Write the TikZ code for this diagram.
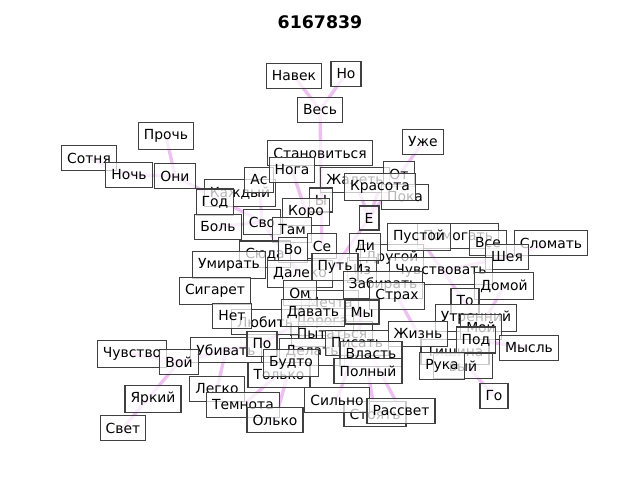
\documentclass[tikz,border=0pt]{standalone}
\usepackage{fontspec}
\setmainfont{DejaVu Sans}
\usepackage{tikz}
\usetikzlibrary{backgrounds}
\tikzset{
  wordnode/.style={draw=black!75, fill=white, fill opacity=0.72, text opacity=1, inner xsep=4pt, inner ysep=5pt, line width=0.8pt, font=\fontsize{10}{12}\selectfont},
  linkedge/.style={draw={rgb,255:red,226;green,150;blue,232}, line width=2.4pt, opacity=0.6},
  titlenode/.style={font=\fontsize{12.5}{15}\selectfont\bfseries}
}
\begin{document}
\begin{tikzpicture}[x=0.72pt, y=-0.72pt]
  \useasboundingbox (0,0) rectangle (640,480);
  \node[titlenode] (title) at (320,22) {6167839};

  % words lying under the others
  \node[wordnode] (kazhd) at (240,193) {Каждый};
  \node[wordnode] (zhal) at (355,180) {Жалеть};
  \node[wordnode] (ot) at (399,174) {От};
  \node[wordnode] (poka) at (405,197) {Пока};
  \node[wordnode] (yy) at (321,200) {Ы};
  \node[wordnode] (pomog) at (458,236) {Помогать};
  \node[wordnode] (drug) at (392,258) {Другой};
  \node[wordnode] (iz) at (362,270) {Из};
  \node[wordnode] (mazha) at (330,303) {Мечта};
  \node[wordnode] (doroga) at (322,322) {Дорога};
  \node[wordnode] (pyt) at (332,334) {Пытаться};
  \node[wordnode] (delat) at (312,352) {Делать};
  \node[wordnode] (tish) at (455,352) {Тишина};
  \node[wordnode] (stoyat) at (375,414) {Стоять};
  \node[wordnode, minimum width=42pt] (vyy) at (463,366) {\hfill вый};

  % top
  \node[wordnode] (navek) at (294,76) {Навек};
  \node[wordnode] (no) at (346,74) {Но};
  \node[wordnode] (ves) at (320,110) {Весь};
  \node[wordnode] (proch) at (166,136) {Прочь};
  \node[wordnode] (uzhe) at (423,142) {Уже};
  \node[wordnode] (sotnya) at (89,158) {Сотня};
  \node[wordnode] (noch) at (129,175) {Ночь};
  \node[wordnode] (oni) at (175,176) {Они};
  \node[wordnode] (stanov) at (320,153) {Становиться};
  \node[wordnode] (as) at (259,180) {Ас};
  \node[wordnode] (noga) at (292,170) {Нога};
  \node[wordnode] (kras) at (380,187) {Красота};
  \node[wordnode] (god) at (215,202) {Год};
  \node[wordnode] (bol) at (218,227) {Боль};
  \node[wordnode] (svo) at (262,222) {Сво};
  \node[wordnode] (koro) at (306,212) {Коро};
  \node[wordnode] (e) at (369,218) {Е};
  \node[wordnode] (tam) at (292,230) {Там};

  % middle
  \node[wordnode] (pust) at (419,237) {Пустой};
  \node[wordnode] (vse) at (488,243) {Все};
  \node[wordnode] (slom) at (551,243) {Сломать};
  \node[wordnode] (sheya) at (507,257) {Шея};
  \node[wordnode] (syuda) at (265,254) {Сюда};
  \node[wordnode] (vo) at (293,250) {Во};
  \node[wordnode] (se) at (322,246) {Се};
  \node[wordnode] (di) at (365,247) {Ди};
  \node[wordnode] (umir) at (229,265) {Умирать};
  \node[wordnode] (dalek) at (300,274) {Далеко};
  \node[wordnode] (put) at (335,267) {Путь};
  \node[wordnode] (chuvstv) at (441,271) {Чувствовать};
  \node[wordnode] (domoy) at (504,286) {Домой};
  \node[wordnode] (sigar) at (215,291) {Сигарет};
  \node[wordnode] (zabir) at (383,285) {Забирать};
  \node[wordnode] (om) at (300,293) {Ом};
  \node[wordnode] (strah) at (397,296) {Страх};
  \node[wordnode] (to) at (465,301) {То};
  \node[wordnode] (lyub) at (265,322) {Любить};
  \node[wordnode] (net) at (232,316) {Нет};
  \node[wordnode] (davat) at (313,313) {Давать};
  \node[wordnode] (my) at (362,312) {Мы};
  \node[wordnode] (utren) at (476,318) {Утренний};
  \node[wordnode] (moy) at (481,327) {Мой};
  \node[wordnode] (zhizn) at (418,334) {Жизнь};
  \node[wordnode] (pod) at (476,340) {Под};
  \node[wordnode] (mysl) at (529,348) {Мысль};

  % bottom
  \node[wordnode] (chuvstvo) at (132,354) {Чувство};
  \node[wordnode] (ubiv) at (226,350) {Убивать};
  \node[wordnode] (po) at (262,344) {По};
  \node[wordnode] (voy) at (179,362) {Вой};
  \node[wordnode] (pisat) at (357,343) {Писать};
  \node[wordnode] (vlast) at (371,354) {Власть};
  \node[wordnode] (tolko) at (279,375) {Только};
  \node[wordnode] (budto) at (291,363) {Будто};
  \node[wordnode] (poln) at (368,371) {Полный};
  \node[wordnode] (ruka) at (442,366) {Рука};
  \node[wordnode] (go) at (494,396) {Го};
  \node[wordnode] (legko) at (217,389) {Легко};
  \node[wordnode] (yark) at (153,399) {Яркий};
  \node[wordnode] (silno) at (337,400) {Сильно};
  \node[wordnode] (temn) at (243,405) {Темнота};
  \node[wordnode] (rassv) at (401,411) {Рассвет};
  \node[wordnode] (olko) at (275,420) {Олько};
  \node[wordnode] (svet) at (123,428) {Свет};

  % links, kept behind the words
  \begin{scope}[on background layer]
    \draw[linkedge] (navek.center) -- (ves.center);
    \draw[linkedge] (no.center) -- (ves.center);
    \draw[linkedge] (ves.center) -- (se.center);
    \draw[linkedge] (proch.center) -- (oni.center);
    \draw[linkedge] (sotnya.center) -- (noch.center);
    \draw[linkedge] (noch.center) -- (oni.center);
    \draw[linkedge] (oni.center) -- (svo.center);
    \draw[linkedge] (as.center) -- (svo.center);
    \draw[linkedge] (bol.center) -- (svo.center);
    \draw[linkedge] (svo.center) -- (dalek.center);
    \draw[linkedge] (noga.center) -- (koro.center);
    \draw[linkedge] (uzhe.center) -- (e.center);
    \draw[linkedge] (zhal.center) -- (e.center);
    \draw[linkedge] (kras.center) -- (e.center);
    \draw[linkedge] (e.center) -- (put.center);
    \draw[linkedge] (pust.center) -- (utren.center);
    \draw[linkedge] (slom.center) -- (sheya.center);
    \draw[linkedge] (sheya.center) -- (chuvstv.center);
    \draw[linkedge] (domoy.center) -- (moy.center);
    \draw[linkedge] (mysl.center) -- (pod.center);
    \draw[linkedge] (tish.center) -- (go.center);
    \draw[linkedge] (chuvstvo.center) -- (voy.center);
    \draw[linkedge] (svet.center) -- (voy.center);
    \draw[linkedge] (voy.center) -- (ubiv.center);
    \draw[linkedge] (ubiv.center) -- (po.center);
    \draw[linkedge] (ubiv.center) -- (legko.center);
    \draw[linkedge] (po.center) -- (davat.center);
    \draw[linkedge] (temn.center) -- (budto.center);
    \draw[linkedge] (olko.center) -- (budto.center);
    \draw[linkedge] (budto.center) -- (davat.center);
    \draw[linkedge] (rassv.center) -- (vlast.center);
    \draw[linkedge] (stoyat.center) -- (poln.center);
    \draw[linkedge] (silno.center) -- (pisat.center);
    \draw[linkedge] (pisat.center) -- (my.center);
    \draw[linkedge] (strah.center) -- (zhizn.center);
  \end{scope}
\end{tikzpicture}
\end{document}
